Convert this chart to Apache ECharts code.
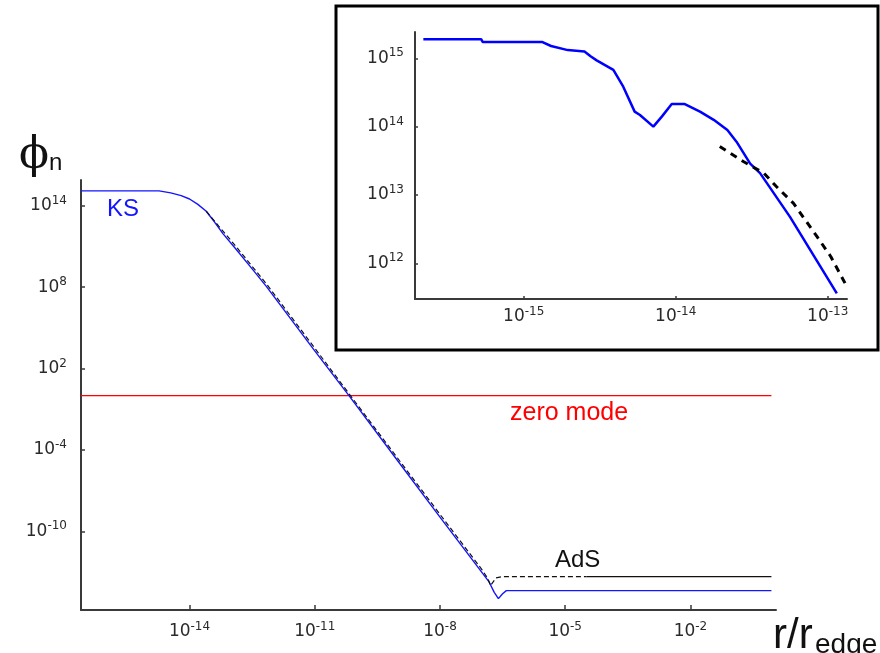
<!DOCTYPE html>
<html>
<head>
<meta charset="utf-8">
<script src="https://cdn.jsdelivr.net/npm/echarts@6/dist/echarts.min.js"></script>
<style>
  html, body { margin: 0; padding: 0; background: #fff; }
  #chart { width: 880px; height: 653px; }
</style>
</head>
<body>
<div id="chart"></div>
<script>
// All samples are stored as log10 values: x = log10(r / r_edge), y = log10(phi_n)

// Main panel: KS solution
const ksLogR   = [-16.6, -14.73, -14.45, -14.2, -14.0, -13.8, -13.6, -13.4, -13.2, -12.9, -12.5, -12.16, -11.0, -10.18, -9.0, -8.0, -7.2, -6.82, -6.7, -6.6, -6.5, -6.41, -0.06];
const ksLogPhi = [15.1, 15.1, 14.95, 14.75, 14.5, 14.1, 13.6, 12.8, 11.95, 10.85, 9.35, 8.06, 3.3, 0.0, -4.85, -8.95, -12.2, -13.75, -14.5, -14.96, -14.6, -14.37, -14.37];

// Main panel: AdS solution (dashed part, then solid tail)
const adsDashLogR   = [-13.6, -13.3, -12.9, -12.16, -10.18, -8.0, -7.0, -6.85, -6.79, -6.66, -6.51, -4.49];
const adsDashLogPhi = [13.6, 12.5, 11.05, 8.25, 0.15, -8.75, -12.8, -13.5, -14.0, -13.44, -13.34, -13.34];
const adsSolidLogR   = [-4.49, -0.06];
const adsSolidLogPhi = [-13.34, -13.34];

// Main panel: zero mode
const zeroLogR   = [-16.6, -0.06];
const zeroLogPhi = [0, 0];

// Tick exponents
const mainXTicks  = [-14, -11, -8, -5, -2];
const mainYTicks  = [-10, -4, 2, 8, 14];
const insetXTicks = [-15, -14, -13];
const insetYTicks = [12, 13, 14, 15];

// Inset: close-up of the KS core
const insetKsLogR   = [-15.66, -15.28, -15.27, -14.88, -14.82, -14.71, -14.60, -14.56, -14.52, -14.41, -14.345, -14.27, -14.235, -14.147, -14.09, -14.026, -13.94, -13.84, -13.75, -13.66, -13.60, -13.51, -13.445, -13.248, -12.94];
const insetKsLogPhi = [15.28, 15.28, 15.24, 15.24, 15.18, 15.12, 15.10, 15.03, 14.97, 14.83, 14.585, 14.22, 14.17, 14.0, 14.15, 14.33, 14.33, 14.22, 14.10, 13.95, 13.78, 13.46, 13.32, 12.68, 11.56];
const insetAdsLogR   = [-13.71, -13.555, -13.42, -13.336, -13.226, -13.07, -12.98, -12.886];
const insetAdsLogPhi = [13.71, 13.49, 13.32, 13.12, 12.88, 12.39, 12.10, 11.71];

const pairs = (xs, ys) => xs.map((x, i) => [x, ys[i]]);

const axisColor = '#3a3a3a';
// "10" with a raised exponent: bottom padding on the exponent lifts it above the base line
const labelRich = {
  b: { fontSize: 17, fontFamily: 'DejaVu Sans', color: '#2a2a2a', lineHeight: 17 },
  s: { fontSize: 12, fontFamily: 'DejaVu Sans', color: '#2a2a2a', lineHeight: 12, padding: [0, 0, 10, 0] }
};
const powLabel = v => '{b|10}{s|' + Math.round(v) + '}';

function makeAxis(gridIndex, min, max, ticks, margin, tickLen) {
  return {
    type: 'value',
    gridIndex: gridIndex,
    min: min,
    max: max,
    axisLine: { show: true, onZero: false, lineStyle: { color: axisColor, width: 2 } },
    axisTick: { show: true, inside: true, length: tickLen, customValues: ticks, lineStyle: { color: axisColor, width: 1.5 } },
    axisLabel: { show: true, customValues: ticks, margin: margin, formatter: powLabel, rich: labelRich },
    splitLine: { show: false },
    minorTick: { show: false }
  };
}

const chart = echarts.init(document.getElementById('chart'), null, { renderer: 'canvas' });

chart.setOption({
  animation: false,
  backgroundColor: '#fff',
  grid: [
    { left: 81, right: 104, top: 180, bottom: 43, containLabel: false, outerBoundsMode: 'none' },
    { left: 415, right: 33, top: 32, bottom: 354, containLabel: false, outerBoundsMode: 'none' }
  ],
  xAxis: [
    makeAxis(0, -16.6, 0.05, mainXTicks, 13, 5),
    makeAxis(1, -15.715, -12.873, insetXTicks, 9, 3)
  ],
  yAxis: [
    makeAxis(0, -15.8, 15.9, mainYTicks, 14, 4),
    makeAxis(1, 11.478, 15.385, insetYTicks, 11, 3)
  ],
  series: [
    {
      name: 'zero mode', type: 'line', xAxisIndex: 0, yAxisIndex: 0,
      data: pairs(zeroLogR, zeroLogPhi), showSymbol: false,
      lineStyle: { color: '#ff0000', width: 1.3 }
    },
    {
      name: 'KS', type: 'line', xAxisIndex: 0, yAxisIndex: 0,
      data: pairs(ksLogR, ksLogPhi), showSymbol: false,
      lineStyle: { color: '#1414ff', width: 1.4 }
    },
    {
      name: 'AdS', type: 'line', xAxisIndex: 0, yAxisIndex: 0,
      data: pairs(adsDashLogR, adsDashLogPhi), showSymbol: false,
      lineStyle: { color: '#111', width: 1.2, type: [5, 3] }
    },
    {
      name: 'AdS tail', type: 'line', xAxisIndex: 0, yAxisIndex: 0,
      data: pairs(adsSolidLogR, adsSolidLogPhi), showSymbol: false,
      lineStyle: { color: '#111', width: 1.3 }
    },
    {
      name: 'KS inset', type: 'line', xAxisIndex: 1, yAxisIndex: 1,
      data: pairs(insetKsLogR, insetKsLogPhi), showSymbol: false,
      lineStyle: { color: '#0000ff', width: 2.5 }
    },
    {
      name: 'AdS inset', type: 'line', xAxisIndex: 1, yAxisIndex: 1,
      data: pairs(insetAdsLogR, insetAdsLogPhi), showSymbol: false,
      lineStyle: { color: '#000', width: 3, type: [7, 6] }
    }
  ],
  graphic: [
    {
      type: 'rect', z: 0,
      shape: { x: 336, y: 6, width: 542, height: 344 },
      style: { fill: 'none', stroke: '#000', lineWidth: 3 }
    },
    {
      type: 'text', x: 19, y: 157,
      style: { text: '\u03D5', font: '44px "DejaVu Serif"', fill: '#111', textAlign: 'left', textVerticalAlign: 'middle' }
    },
    {
      type: 'text', x: 49, y: 163,
      style: { text: 'n', font: '24px "Liberation Sans"', fill: '#111', textAlign: 'left', textVerticalAlign: 'middle' }
    },
    {
      type: 'text', x: 107, y: 209,
      style: { text: 'KS', font: '24px "Liberation Sans"', fill: '#1414ff', textAlign: 'left', textVerticalAlign: 'middle' }
    },
    {
      type: 'text', x: 510, y: 413.5,
      style: { text: 'zero mode', font: '25px "Liberation Sans"', fill: '#ff0000', textAlign: 'left', textVerticalAlign: 'middle' }
    },
    {
      type: 'text', x: 555, y: 560,
      style: { text: 'AdS', font: '24px "Liberation Sans"', fill: '#111', textAlign: 'left', textVerticalAlign: 'middle' }
    },
    {
      type: 'text', x: 773, y: 636,
      style: { text: 'r/r', font: '42px "Liberation Sans"', fill: '#111', textAlign: 'left', textVerticalAlign: 'middle' }
    },
    {
      type: 'text', x: 815, y: 645,
      style: { text: 'edge', font: '28px "Liberation Sans"', fill: '#111', textAlign: 'left', textVerticalAlign: 'middle' }
    }
  ]
});
</script>
</body>
</html>
